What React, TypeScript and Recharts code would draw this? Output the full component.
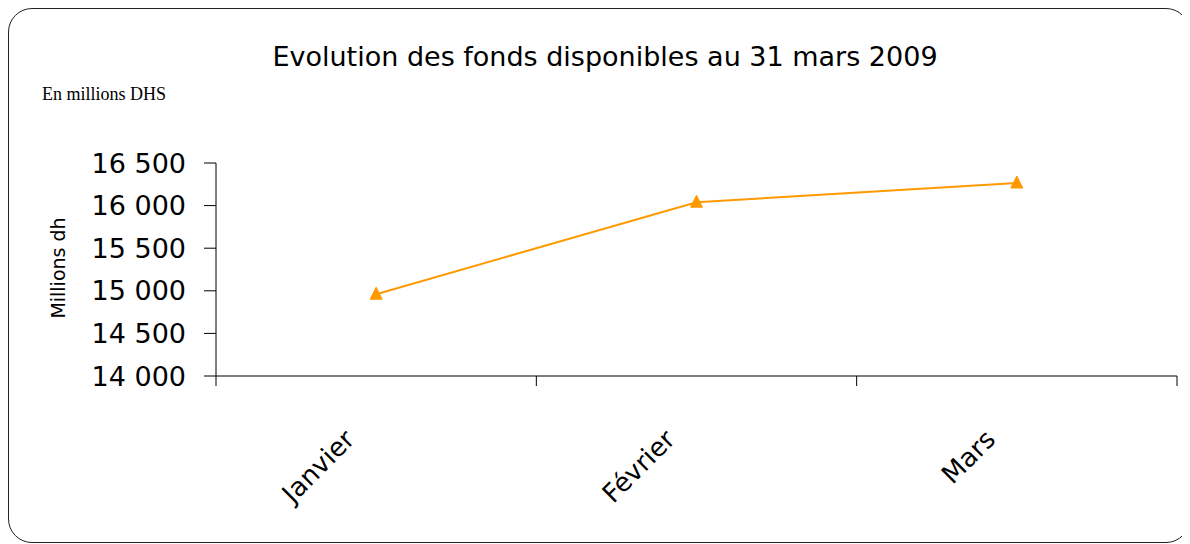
import React from 'react';
import { LineChart, Line, XAxis, YAxis } from 'recharts';

const months = ['Janvier', 'Février', 'Mars'];
const fonds = [14960, 16040, 16265];
const yTicks = [14000, 14500, 15000, 15500, 16000, 16500];
const boundTicks = [0, 1, 2, 3];

const data = months.map((m, i) => ({ m, pos: i + 0.5, v: fonds[i] }));

const FONT = '"DejaVu Sans", sans-serif';

const fmt = (v: number) => {
  const s = String(v);
  return s.length > 3 ? s.slice(0, s.length - 3) + ' ' + s.slice(-3) : s;
};

const Triangle = (props: any) => {
  const { cx, cy } = props;
  if (cx == null || cy == null) return null;
  return (
    <polygon
      points={`${cx},${cy - 7} ${cx - 6},${cy + 5} ${cx + 6},${cy + 5}`}
      fill="#FF9900"
      stroke="#FF9900"
    />
  );
};

const MonthTick = (props: any) => {
  const { x, y, payload } = props;
  return (
    <g transform={`translate(${x - 20},${y + 56})`}>
      <text
        x={0}
        y={0}
        textAnchor="end"
        transform="rotate(-45)"
        fontFamily={FONT}
        fontSize={26}
        fill="#000"
      >
        {payload.value}
      </text>
    </g>
  );
};

const EmptyTick = () => <g />;

export default function App() {
  return (
    <div
      style={{
        position: 'relative',
        width: 1180,
        height: 533,
        border: '1px solid #222',
        borderRadius: 24,
        background: '#fff',
        overflow: 'hidden',
      }}
    >
      <div
        style={{
          position: 'absolute',
          left: 0,
          width: 1192,
          top: 32,
          textAlign: 'center',
          fontFamily: FONT,
          fontSize: 27,
          color: '#000',
          whiteSpace: 'nowrap',
        }}
      >
        Evolution des fonds disponibles au 31 mars 2009
      </div>
      <div
        style={{
          position: 'absolute',
          left: 33,
          top: 75,
          fontFamily: '"Liberation Serif", serif',
          fontSize: 18,
          color: '#000',
        }}
      >
        En millions DHS
      </div>
      <div
        style={{
          position: 'absolute',
          left: 49,
          top: 259,
          width: 0,
          height: 0,
        }}
      >
        <div
          style={{
            position: 'absolute',
            left: 0,
            top: 0,
            transform: 'translate(-50%,-50%) rotate(-90deg)',
            fontFamily: FONT,
            fontSize: 19,
            whiteSpace: 'nowrap',
            color: '#000',
          }}
        >
          Millions dh
        </div>
      </div>
      <div style={{ position: 'absolute', left: 0, top: 0 }}>
        <LineChart
          width={1176}
          height={530}
          data={data}
          margin={{ top: 154, right: 8, left: 0, bottom: 161 }}
        >
          <XAxis
            xAxisId="bounds"
            dataKey="pos"
            type="number"
            domain={[0, 3]}
            ticks={boundTicks}
            interval={0}
            height={1}
            tick={EmptyTick}
            tickSize={10}
            axisLine={{ stroke: '#000', strokeWidth: 1 }}
            tickLine={{ stroke: '#000', strokeWidth: 1 }}
            allowDataOverflow
          />
          <XAxis
            xAxisId="cat"
            dataKey="m"
            type="category"
            scale="band"
            height={1}
            axisLine={false}
            tickLine={false}
            tick={<MonthTick />}
            interval={0}
          />
          <YAxis
            type="number"
            domain={[14000, 16500]}
            ticks={yTicks}
            width={207}
            tickSize={12}
            tickMargin={18}
            tickFormatter={fmt}
            axisLine={{ stroke: '#000', strokeWidth: 1 }}
            tickLine={{ stroke: '#000', strokeWidth: 1 }}
            tick={{ fontFamily: FONT, fontSize: 27, fill: '#000' }}
          />
          <Line
            xAxisId="bounds"
            dataKey="v"
            stroke="#FF9900"
            strokeWidth={2}
            dot={<Triangle />}
            activeDot={false}
            isAnimationActive={false}
          />
        </LineChart>
      </div>
    </div>
  );
}
